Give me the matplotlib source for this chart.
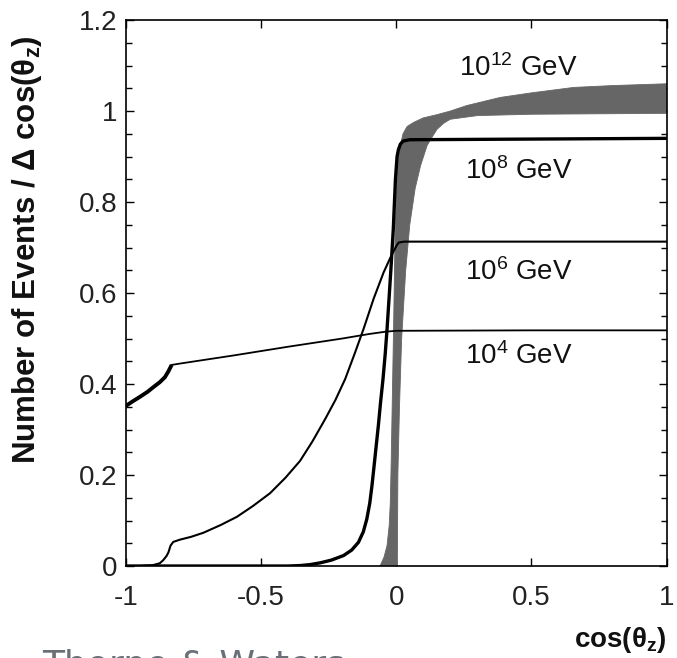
import numpy as np
import matplotlib
matplotlib.use("Agg")
import matplotlib.pyplot as plt

plt.rcParams['font.family'] = ['Liberation Sans', 'DejaVu Sans']
plt.rcParams['mathtext.fontset'] = 'custom'
plt.rcParams['mathtext.rm'] = 'Liberation Sans'
plt.rcParams['mathtext.it'] = 'Liberation Sans:italic'
plt.rcParams['mathtext.bf'] = 'Liberation Sans:bold'
plt.rcParams['axes.unicode_minus'] = False

# 10^4 GeV
x_e4 = [-1.0, -0.975, -0.948, -0.92, -0.899, -0.875, -0.856, -0.843, -0.831,
        -0.8, -0.6, -0.4, -0.2, -0.1, -0.04, 0.0, 0.5, 1.0]
y_e4 = [0.352, 0.362, 0.372, 0.383, 0.393, 0.404, 0.415, 0.428, 0.442,
        0.445, 0.463, 0.482, 0.500, 0.510, 0.515, 0.517, 0.518, 0.518]

# 10^6 GeV
x_e6 = [-1.0, -0.95, -0.9, -0.875, -0.862, -0.85, -0.843, -0.835, -0.825,
        -0.8, -0.76, -0.714, -0.65, -0.59, -0.53, -0.467, -0.41, -0.356, -0.31,
        -0.263, -0.225, -0.189, -0.155, -0.121, -0.084, -0.047, -0.02,
        0.0, 0.009, 0.03, 1.0]
y_e6 = [0.0, 0.0, 0.002, 0.006, 0.013, 0.022, 0.03, 0.045, 0.053,
        0.058, 0.064, 0.073, 0.09, 0.108, 0.132, 0.16, 0.194, 0.231, 0.274,
        0.323, 0.365, 0.411, 0.465, 0.521, 0.587, 0.645, 0.68,
        0.703, 0.711, 0.713, 0.713]

# 10^8 GeV
x_e8 = [-1.0, -0.4, -0.356, -0.32, -0.281, -0.24, -0.195, -0.165, -0.14,
        -0.122, -0.109, -0.098, -0.09, -0.082, -0.074, -0.066, -0.058,
        -0.049, -0.041, -0.034, -0.027, -0.02, -0.011, -0.003, 0.003, 0.008,
        0.015, 0.025, 0.05, 1.0]
y_e8 = [0.0, 0.0, 0.001, 0.003, 0.007, 0.013, 0.023, 0.035, 0.052,
        0.075, 0.103, 0.138, 0.176, 0.22, 0.265, 0.31, 0.36,
        0.411, 0.465, 0.521, 0.585, 0.65, 0.74, 0.85, 0.9, 0.915,
        0.927, 0.934, 0.937, 0.94]

# 10^12 GeV band (upper / lower edge)
x_e12_hi = [-0.06, -0.045, -0.034, -0.026, -0.022, -0.019, -0.016, -0.01,
            -0.004, 0.005, 0.015, 0.025, 0.04, 0.064, 0.1, 0.15, 0.2, 0.26,
            0.385, 0.5, 0.657, 0.8, 1.0]
y_e12_hi = [0.0, 0.02, 0.045, 0.09, 0.14, 0.22, 0.32, 0.52,
            0.74, 0.88, 0.924, 0.95, 0.966, 0.975, 0.985, 0.992, 1.0, 1.012,
            1.03, 1.04, 1.052, 1.056, 1.06]
x_e12_lo = [0.004, 0.006, 0.012, 0.02, 0.035, 0.05, 0.07, 0.09, 0.114,
            0.135, 0.151, 0.175, 0.2, 0.3, 0.5, 1.0]
y_e12_lo = [0.0, 0.2, 0.35, 0.5, 0.65, 0.75, 0.83, 0.88, 0.924,
            0.945, 0.96, 0.973, 0.982, 0.99, 0.993, 0.995]

energy_labels = ['$10^{12}$ GeV', '$10^{8}$ GeV', '$10^{6}$ GeV', '$10^{4}$ GeV']
label_x = [0.452, 0.452, 0.452, 0.452]
label_y = [1.094, 0.868, 0.646, 0.462]

xtick_vals = [-1, -0.5, 0, 0.5, 1]
xtick_labels = ['-1', '-0.5', '0', '0.5', '1']
ytick_vals = [0, 0.2, 0.4, 0.6, 0.8, 1.0, 1.2]
ytick_labels = ['0', '0.2', '0.4', '0.6', '0.8', '1', '1.2']

fig = plt.figure(figsize=(6.77, 6.58), dpi=100)
ax = fig.add_axes([0.1861, 0.1398, 0.7984, 0.8297])

band_x = np.concatenate([x_e12_hi, x_e12_lo[::-1]])
band_y = np.concatenate([y_e12_hi, y_e12_lo[::-1]])
ax.fill(band_x, band_y, color='#666666', lw=0.6, ec='#666666', zorder=2)

ax.plot(x_e4, y_e4, color='black', lw=1.3, zorder=3)
ax.plot(x_e4[:9], y_e4[:9], color='black', lw=2.8, zorder=3,
        solid_capstyle='butt')
ax.plot(x_e6, y_e6, color='black', lw=1.5, zorder=3)
ax.plot(x_e8, y_e8, color='black', lw=2.4, zorder=4)

for txt, lx, ly in zip(energy_labels, label_x, label_y):
    ax.text(lx, ly, txt, ha='center', va='center', fontsize=20, color='#111111')

ax.set_xlim(-1, 1)
ax.set_ylim(0, 1.2)
ax.set_xticks(xtick_vals)
ax.set_xticklabels(xtick_labels)
ax.set_yticks(ytick_vals)
ax.set_yticklabels(ytick_labels)
ax.set_yticks(np.arange(0, 1.201, 0.05), minor=True)

ax.tick_params(which='both', direction='in', top=True, right=True,
               width=1.0, labelsize=20, labelcolor='#222222')
ax.tick_params(which='major', length=6)
ax.tick_params(which='minor', length=4.5)
ax.tick_params(axis='x', pad=14)
ax.tick_params(axis='y', pad=6)
for sp in ax.spines.values():
    sp.set_linewidth(1.2)

ax.set_ylabel('Number of Events / Δ cos(θ$_\\mathbf{z}$)', fontsize=22.5,
              fontweight='bold', color='#111111')
ax.yaxis.set_label_coords(-0.152, 0.579)
ax.set_xlabel('cos(θ$_\\mathbf{z}$)', fontsize=20, fontweight='bold',
              color='#111111', ha='right')
ax.xaxis.set_label_coords(1.0, -0.108)

fig.text(42 / 677, -0.027, 'Thorne & Waters', fontsize=26, color='#6a7078',
         family='DejaVu Sans', ha='left', va='baseline')

fig.savefig('out.png', dpi=100)
